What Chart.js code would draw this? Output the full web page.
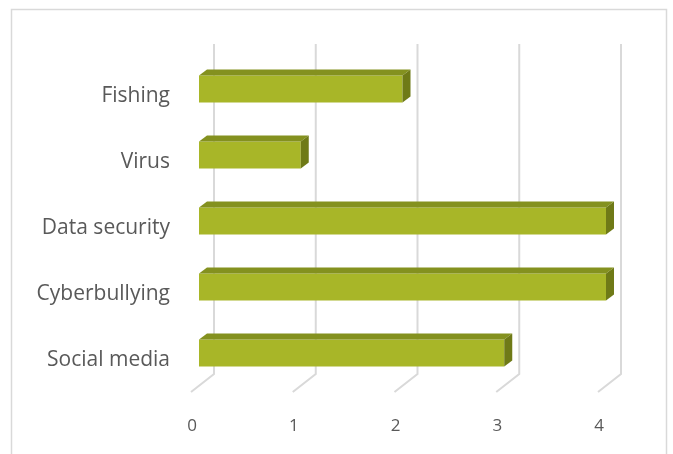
<!DOCTYPE html>
<html>
<head>
<meta charset="utf-8">
<script src="https://cdn.jsdelivr.net/npm/chart.js@4"></script>
<style>
  html, body { margin: 0; padding: 0; background: #fff; }
  #wrap { width: 673px; height: 454px; position: relative; }
</style>
</head>
<body>
<div id="wrap"><canvas id="myChart" width="673" height="454"></canvas></div>
<script>
var categories = ["Fishing", "Virus", "Data security", "Cyberbullying", "Social media"];
var values = [2, 1, 4, 4, 3];
var tickValues = [0, 1, 2, 3, 4];

// depth of the fake 3D look
var barDx = 8, barDy = 6;
var wallDx = 15, floorDx = -8, floorDy = 18;

var frame3d = {
    id: 'frame3d',
    beforeDatasetsDraw: function(chart) {
        var ctx = chart.ctx;
        var x = chart.scales.x;
        var area = chart.chartArea;
        ctx.save();
        // outer border
        ctx.strokeStyle = '#d9d9d9';
        ctx.lineWidth = 1.5;
        ctx.strokeRect(11.5, 9.5, 655, 470);
        // back wall gridlines + floor lines
        ctx.strokeStyle = '#d9d9d9';
        ctx.lineWidth = 2;
        tickValues.forEach(function(v) {
            var px = x.getPixelForValue(v);
            ctx.beginPath();
            ctx.moveTo(px + wallDx, 44);
            ctx.lineTo(px + wallDx, area.bottom - 12);
            ctx.lineTo(px + floorDx, area.bottom + floorDy - 12);
            ctx.stroke();
        });
        ctx.restore();
    },
    afterDatasetsDraw: function(chart) {
        var ctx = chart.ctx;
        var meta = chart.getDatasetMeta(0);
        ctx.save();
        meta.data.forEach(function(bar) {
            var p = bar.getProps(['x', 'y', 'base', 'height'], true);
            var top = p.y - p.height / 2;
            var bottom = p.y + p.height / 2;
            // top face
            ctx.fillStyle = '#84911f';
            ctx.beginPath();
            ctx.moveTo(p.base, top);
            ctx.lineTo(p.base + barDx, top - barDy);
            ctx.lineTo(p.x + barDx, top - barDy);
            ctx.lineTo(p.x, top);
            ctx.closePath();
            ctx.fill();
            // side face
            ctx.fillStyle = '#6f7a17';
            ctx.beginPath();
            ctx.moveTo(p.x, top);
            ctx.lineTo(p.x + barDx, top - barDy);
            ctx.lineTo(p.x + barDx, bottom - barDy);
            ctx.lineTo(p.x, bottom);
            ctx.closePath();
            ctx.fill();
        });
        ctx.restore();
    }
};

var ctx = document.getElementById('myChart').getContext('2d');
var chart = new Chart(ctx, {
    type: 'bar',
    data: {
        labels: categories,
        datasets: [{
            data: values,
            backgroundColor: '#a8b628',
            borderWidth: 0,
            categoryPercentage: 0.82,
            barPercentage: 0.5
        }]
    },
    options: {
        indexAxis: 'y',
        responsive: false,
        animation: false,
        layout: { padding: { top: 56, right: 67, left: 0, bottom: 0 } },
        plugins: {
            legend: { display: false },
            tooltip: { enabled: false }
        },
        scales: {
            x: {
                min: 0,
                max: 4,
                afterFit: function(scale) { scale.height = 68; },
                grid: { display: false, drawTicks: false },
                border: { display: false },
                ticks: {
                    stepSize: 1,
                    padding: 30,
                    labelOffset: -7,
                    color: '#595959',
                    font: { family: 'Open Sans', size: 17 }
                }
            },
            y: {
                afterFit: function(scale) { scale.width = 199; },
                grid: { display: false, drawTicks: false },
                border: { display: false },
                ticks: {
                    padding: 29,
                    labelOffset: 7,
                    color: '#595959',
                    font: { family: 'Open Sans', size: 21 }
                }
            }
        }
    },
    plugins: [frame3d]
});
</script>
</body>
</html>
